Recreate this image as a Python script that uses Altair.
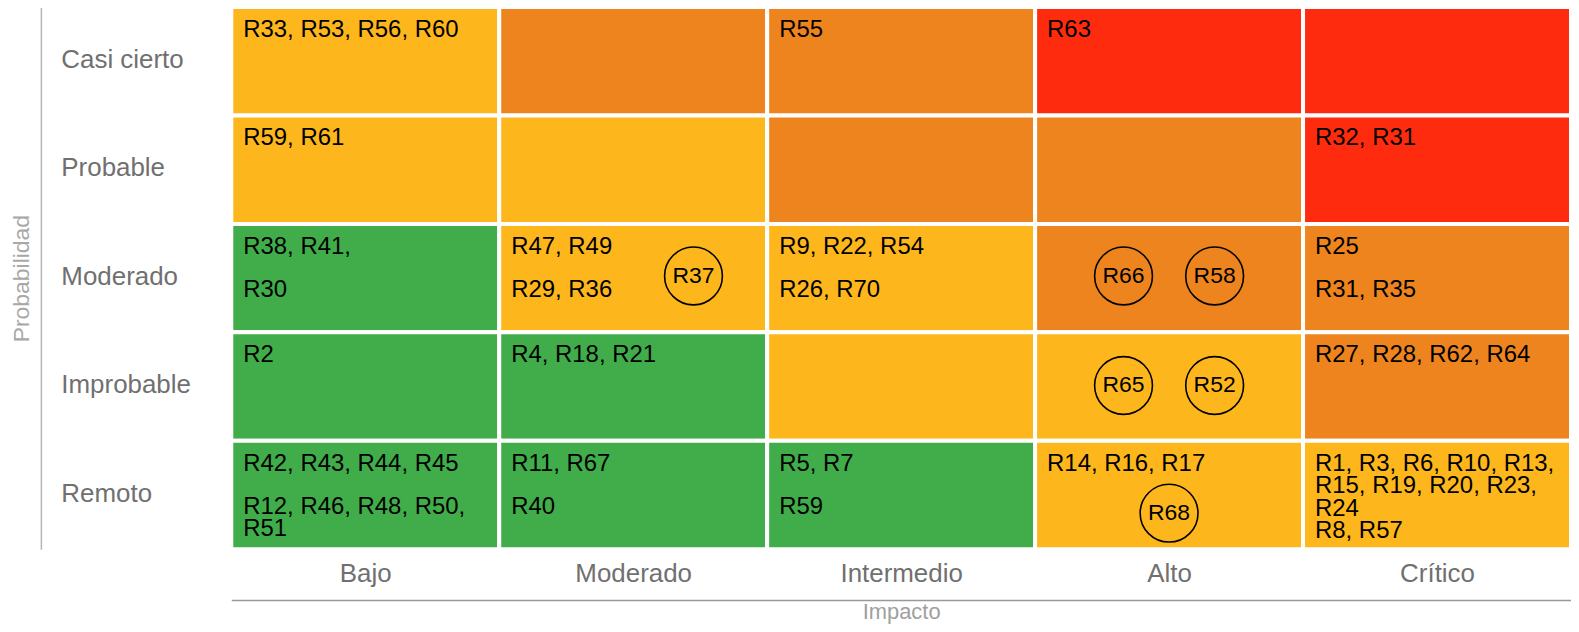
import json
import pandas as pd
import altair as alt

impact = ["Bajo", "Moderado", "Intermedio", "Alto", "Crítico"]
probability = ["Casi cierto", "Probable", "Moderado", "Improbable", "Remoto"]

# risk level of each cell, rows follow `probability`, columns follow `impact`
levels = [
    ["Medio", "Alto", "Alto", "Extremo", "Extremo"],
    ["Medio", "Medio", "Alto", "Alto", "Extremo"],
    ["Bajo", "Medio", "Medio", "Alto", "Alto"],
    ["Bajo", "Bajo", "Medio", "Medio", "Alto"],
    ["Bajo", "Bajo", "Bajo", "Medio", "Medio"],
]
level_names = ["Bajo", "Medio", "Alto", "Extremo"]
level_colors = ["#40AD4A", "#FDB71C", "#EE841E", "#FF2B0E"]

# risk labels written in each cell: (impact, probability, line slot, text)
text_impact = ["Bajo", "Intermedio", "Alto",
               "Bajo", "Crítico",
               "Bajo", "Bajo", "Moderado", "Moderado", "Intermedio", "Intermedio", "Crítico", "Crítico",
               "Bajo", "Moderado", "Crítico",
               "Bajo", "Bajo", "Moderado", "Moderado", "Intermedio", "Intermedio", "Alto", "Crítico"]
text_prob = ["Casi cierto", "Casi cierto", "Casi cierto",
             "Probable", "Probable",
             "Moderado", "Moderado", "Moderado", "Moderado", "Moderado", "Moderado", "Moderado", "Moderado",
             "Improbable", "Improbable", "Improbable",
             "Remoto", "Remoto", "Remoto", "Remoto", "Remoto", "Remoto", "Remoto", "Remoto"]
text_slot = [0, 0, 0,
             0, 0,
             0, 1, 0, 1, 0, 1, 0, 1,
             0, 0, 0,
             0, 1, 0, 1, 0, 1, 0, 0]
text_label = ["R33, R53, R56, R60", "R55", "R63",
              "R59, R61", "R32, R31",
              "R38, R41,", "R30", "R47, R49", "R29, R36", "R9, R22, R54", "R26, R70", "R25", "R31, R35",
              "R2", "R4, R18, R21", "R27, R28, R62, R64",
              "R42, R43, R44, R45", "R12, R46, R48, R50,\nR51", "R11, R67", "R40", "R5, R7", "R59",
              "R14, R16, R17",
              "R1, R3, R6, R10, R13,\nR15, R19, R20, R23,\nR24\nR8, R57"]

# circled risks: (impact, probability, position inside the cell as fraction)
circle_impact = ["Moderado", "Alto", "Alto", "Alto", "Alto", "Alto"]
circle_prob = ["Moderado", "Moderado", "Moderado", "Improbable", "Improbable", "Remoto"]
circle_fx = [0.725, 0.33, 0.67, 0.33, 0.67, 0.5]
circle_fy = [0.48, 0.48, 0.48, 0.49, 0.49, 0.667]
circle_label = ["R37", "R66", "R58", "R65", "R52", "R68"]

# ---------------- tables ----------------
cells = pd.DataFrame([
    {"impact": imp, "prob": pr, "level": levels[r][c],
     "x0": c, "x1": c + 1, "y0": r, "y1": r + 1}
    for r, pr in enumerate(probability) for c, imp in enumerate(impact)
])
texts = pd.DataFrame({
    "x0": [impact.index(i) for i in text_impact],
    "y0": [probability.index(p) for p in text_prob],
    "slot": text_slot,
    "label": text_label,
})
circles = pd.DataFrame({
    "x0": [impact.index(i) + f for i, f in zip(circle_impact, circle_fx)],
    "y0": [probability.index(p) + f for p, f in zip(circle_prob, circle_fy)],
    "label": circle_label,
})

W, H = 1344, 544
FONT = "Liberation Sans"
xscale = alt.Scale(domain=[0, 5], nice=False, zero=False)
yscale = alt.Scale(domain=[0, 5], nice=False, zero=False, reverse=True)
mid = [i + 0.5 for i in range(5)]

x_axis = alt.Axis(
    values=mid, labelExpr=f"{json.dumps(impact)}[floor(datum.value)]",
    orient="bottom", offset=51, ticks=False, tickSize=0, grid=False,
    domainColor="#999999", domainWidth=1.5,
    labelFont=FONT, labelFontSize=26, labelColor="#707070",
    labelBaseline="middle", labelPadding=-27, labelAlign="center",
    title="Impacto", titleFont=FONT, titleFontSize=22, titleFontWeight="normal",
    titleColor="#a0a0a0", titleY=18, titleX=W / 2, titleBaseline="alphabetic",
    titleAlign="center",
)
y_axis = alt.Axis(
    values=mid, labelExpr=f"{json.dumps(probability)}[floor(datum.value)]",
    orient="left", offset=191, ticks=False, tickSize=0, grid=False,
    domainColor="#b5b5b5", domainWidth=1.5,
    labelFont=FONT, labelFontSize=26, labelColor="#707070",
    labelAlign="left", labelBaseline="middle", labelPadding=-20, labelOffset=-2,
    title="Probabilidad", titleFont=FONT, titleFontSize=23, titleFontWeight="normal",
    titleColor="#a8a8a8", titleAngle=270, titleX=-12, titleY=H / 2,
    titleAlign="center", titleBaseline="alphabetic",
)

X = alt.X("x0:Q", scale=xscale, axis=x_axis)
Y = alt.Y("y0:Q", scale=yscale, axis=y_axis)

rects = alt.Chart(cells).mark_rect(stroke="white", strokeWidth=4).encode(
    x=X, x2="x1:Q", y=Y, y2="y1:Q",
    color=alt.Color("level:N", scale=alt.Scale(domain=level_names, range=level_colors), legend=None),
)

def text_layer(slot, dy):
    return alt.Chart(texts).transform_filter(alt.datum.slot == slot).mark_text(
        align="left", baseline="alphabetic", dx=12, dy=dy,
        font=FONT, fontSize=24, lineHeight=22.5, lineBreak="\n", color="black",
    ).encode(x=X, y=Y, text="label:N")

rings = alt.Chart(circles).mark_point(
    shape="circle", filled=False, stroke="black", strokeWidth=1.6, size=58 * 58, opacity=1,
).encode(x=X, y=Y)
ring_text = alt.Chart(circles).mark_text(
    align="center", baseline="middle", font=FONT, fontSize=23, color="black",
).encode(x=X, y=Y, text="label:N")

chart = alt.layer(
    rects, text_layer(0, 30), text_layer(1, 73), rings, ring_text
).properties(
    width=W, height=H,
    autosize=alt.AutoSizeParams(type="none"),
    padding={"left": 224, "top": -2, "right": 0, "bottom": 74},
).configure_view(stroke=None)

chart.save("out.html", embed_options={"renderer": "svg", "actions": False})
